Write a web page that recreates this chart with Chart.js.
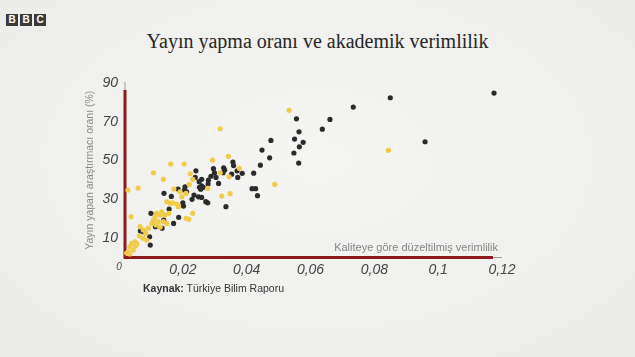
<!DOCTYPE html>
<html>
<head>
<meta charset="utf-8">
<script src="https://cdn.jsdelivr.net/npm/chart.js@4.4.1/dist/chart.umd.min.js"></script>
<style>
  body { margin: 0; background: #efefee; }
  #wrap { position: relative; width: 635px; height: 357px; overflow: hidden;
          background: radial-gradient(ellipse at 50% 45%, #f5f5f4 0%, #f0f0ef 60%, #eaeae9 100%); }
  #chart { position: absolute; left: 0; top: 0; }
  #logo { position: absolute; left: 6px; top: 9px; }
  #logo span { display: inline-block; width: 12px; height: 12px; margin-right: 2px; background: #3a3a3a;
               color: #fff; font: bold 10px "Liberation Sans", Arial, sans-serif; line-height: 12px; text-align: center; }
  #title { position: absolute; left: 0; width: 635px; top: 30px; text-align: center;
           font: 20px "Liberation Serif", serif; color: #262626; }
  #xtitle { position: absolute; right: 137px; top: 241px; font: 11px "Liberation Sans", sans-serif; color: #858585; }
  #source { position: absolute; left: 143px; top: 282px; font: 10.5px "Liberation Sans", sans-serif; color: #333; }
</style>
</head>
<body>
<div id="wrap">
  <div id="logo"><span>B</span><span>B</span><span>C</span></div>
  <div id="title">Yayın yapma oranı ve akademik verimlilik</div>
  <canvas id="chart" width="635" height="357"></canvas>
  <div id="xtitle">Kaliteye göre düzeltilmiş verimlilik</div>
  <div id="source"><b>Kaynak:</b> Türkiye Bilim Raporu</div>
</div>
<script>
var YELLOW = "#f1cc4a";
var BLACK = "#2b2b2b";
var RED = "#8c1a1c";

var SERIES = ["Sarı", "Siyah"];
var Y_TITLE = "Yayın yapan araştırmacı oranı (%)";

var X_TICKS = [0, 0.02, 0.04, 0.06, 0.08, 0.1, 0.12];
var X_TICK_LABELS = ["0", "0,02", "0,04", "0,06", "0,08", "0,1", "0,12"];
var Y_TICKS = [10, 30, 50, 70, 90];

var yellowX = [0.0533, 0.0317, 0.0488, 0.0343, 0.0293, 0.0204, 0.0162, 0.0108, 0.0139, 0.0223,
  0.0060, 0.0028, 0.0038, 0.0377, 0.0345, 0.0317, 0.0231, 0.0220, 0.0278, 0.0322,
  0.0348, 0.0197, 0.0172, 0.0191, 0.0210, 0.0150, 0.0168, 0.0181, 0.0186, 0.0231,
  0.0210, 0.0219, 0.0103, 0.0113, 0.0118, 0.0108, 0.0129, 0.0134, 0.0123, 0.0139,
  0.0150, 0.0066, 0.0076, 0.0064, 0.0076, 0.0087, 0.0029, 0.0034, 0.0040, 0.0045,
  0.0050, 0.0844, 0.0056, 0.0084, 0.0092, 0.0116, 0.0129, 0.0156, 0.0144, 0.0034,
  0.0024, 0.0052, 0.0161];
var yellowY = [75.9, 66.4, 37.7, 52.2, 50.2, 48.2, 48.2, 43.7, 40.3, 43.2,
  35.8, 34.8, 21.0, 46.0, 41.6, 43.7, 40.3, 37.7, 35.7, 31.7,
  32.9, 31.3, 35.3, 33.9, 33.1, 28.8, 28.2, 27.6, 26.2, 22.8,
  20.2, 19.7, 17.6, 21.0, 22.8, 19.3, 21.9, 23.6, 18.5, 18.5,
  17.6, 15.9, 14.2, 11.1, 9.9, 9.0, 3.0, 5.6, 7.3, 3.9,
  8.1, 55.3, 7.0, 12.4, 15.1, 16.8, 15.7, 22.8, 21.9, 1.8,
  2.3, 5.9, 27.9];

var blackX = [0.0734, 0.0661, 0.0637, 0.0556, 0.0564, 0.0550, 0.0577, 0.0565, 0.0548, 0.0563,
  0.0476, 0.0448, 0.0472, 0.0443, 0.0422, 0.0417, 0.0428, 0.0434, 0.0357, 0.0359,
  0.0370, 0.0386, 0.0372, 0.0353, 0.0328, 0.0331, 0.0326, 0.0312, 0.0296, 0.0299,
  0.0288, 0.0304, 0.0280, 0.0279, 0.0259, 0.0241, 0.0239, 0.0251, 0.0259, 0.0264,
  0.0252, 0.0256, 0.0235, 0.0249, 0.0259, 0.0272, 0.0278, 0.0229, 0.0207, 0.0205,
  0.0212, 0.0335, 0.0185, 0.0157, 0.0187, 0.0141, 0.0164, 0.0200, 0.0202, 0.0100,
  0.0140, 0.0171, 0.0135, 0.0114, 0.0096, 0.0077, 0.0067, 0.0098, 0.0850, 0.1175,
  0.0959];
var blackY = [77.6, 71.2, 66.2, 71.5, 64.8, 61.1, 59.4, 57.1, 53.9, 48.7,
  60.4, 55.4, 51.4, 47.6, 43.5, 35.5, 35.5, 31.9, 49.2, 47.4,
  44.7, 43.4, 41.3, 43.0, 46.3, 45.1, 43.7, 38.2, 45.8, 43.6,
  41.9, 41.3, 39.9, 37.9, 40.3, 44.7, 41.3, 39.1, 36.9, 36.2,
  36.2, 35.2, 32.2, 31.3, 31.0, 28.8, 28.2, 30.0, 36.5, 34.8,
  33.9, 26.2, 35.3, 25.0, 20.7, 33.1, 31.5, 28.2, 26.5, 22.8,
  19.3, 17.6, 15.1, 15.9, 10.7, 13.3, 13.7, 6.4, 82.4, 84.8,
  59.7];

function toPoints(xs, ys) {
  return xs.map(function (x, i) { return { x: x, y: ys[i] }; });
}

// red axis lines with thin grey ends, drawn under the dots
var axisLines = {
  id: "axisLines",
  beforeDatasetsDraw: function (chart) {
    var ctx = chart.ctx, a = chart.chartArea;
    var x0 = a.left + 6, y0 = a.bottom;
    ctx.save();
    ctx.strokeStyle = "#9a9a9a";
    ctx.lineWidth = 1;
    ctx.beginPath();
    ctx.moveTo(x0, a.top - 1); ctx.lineTo(x0, a.top + 10);
    ctx.moveTo(a.right - 12, y0); ctx.lineTo(a.right, y0);
    ctx.stroke();
    ctx.strokeStyle = RED;
    ctx.lineWidth = 3;
    ctx.beginPath();
    ctx.moveTo(x0, a.top + 7);
    ctx.lineTo(x0, y0);
    ctx.lineTo(a.right - 9, y0);
    ctx.stroke();
    ctx.restore();
  }
};

var ctx = document.getElementById("chart").getContext("2d");
var chart = new Chart(ctx, {
  type: "scatter",
  data: {
    datasets: [{
      label: SERIES[0],
      data: toPoints(yellowX, yellowY),
      backgroundColor: YELLOW,
      borderWidth: 0,
      pointRadius: 2.6
    }, {
      label: SERIES[1],
      data: toPoints(blackX, blackY),
      backgroundColor: BLACK,
      borderWidth: 0,
      pointRadius: 2.6
    }]
  },
  options: {
    responsive: false,
    animation: false,
    layout: { padding: { top: 83, right: 133, left: 0, bottom: 0 } },
    plugins: { legend: { display: false }, tooltip: { enabled: false } },
    scales: {
      x: {
        type: "linear", min: 0, max: 0.12,
        grid: { display: false, drawTicks: false },
        border: { display: false },
        afterBuildTicks: function (s) { s.ticks = X_TICKS.map(function (v) { return { value: v }; }); },
        afterFit: function (s) { s.height = 99.5; },
        ticks: {
          autoSkip: false, maxRotation: 0, padding: 4, color: "#444",
          callback: function (v, i) { return X_TICK_LABELS[i]; },
          font: function (c) {
            return c.index === 0
              ? { family: "Liberation Sans", size: 10, style: "italic" }
              : { family: "Liberation Sans", size: 14, style: "italic" };
          }
        }
      },
      y: {
        type: "linear", min: 0, max: 90,
        grid: { display: false, drawTicks: false },
        border: { display: false },
        afterBuildTicks: function (s) { s.ticks = Y_TICKS.map(function (v) { return { value: v }; }); },
        afterFit: function (s) { s.width = 119; },
        ticks: {
          padding: 1, color: "#444",
          font: { family: "Liberation Sans", size: 14, style: "italic" }
        },
        title: {
          display: true, text: Y_TITLE, color: "#8a8a8a",
          font: { family: "Liberation Sans", size: 10.5 },
          padding: { top: 84, bottom: 0 }
        }
      }
    }
  },
  plugins: [axisLines]
});
</script>
</body>
</html>
